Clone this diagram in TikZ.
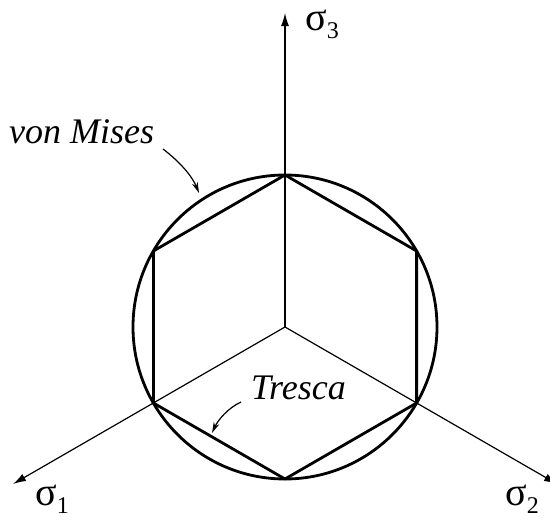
\documentclass[tikz,border=0pt]{standalone}
\usepackage{fontspec}
\setmainfont{Liberation Serif}
\usetikzlibrary{arrows.meta,calc}
\tikzset{
  axis/.style={line width=1.2pt,-{Latex[length=13pt,width=8pt]}},
  thick line/.style={line width=2.8pt,line join=round},
  pointer/.style={line width=1.2pt,-{Stealth[length=11pt,width=6pt]}},
  lbl/.style={font=\fontsize{36}{38}\selectfont\itshape,inner sep=0pt,anchor=base west},
  sig/.style={font=\fontsize{40}{42}\selectfont,inner sep=0pt,anchor=base west}
}
\newcommand{\subnum}[1]{\raisebox{-0.2em}{\fontsize{24}{26}\selectfont #1}}
\begin{document}
\begin{tikzpicture}[x=1pt,y=-1pt]
\useasboundingbox (0,0) rectangle (550,520);
\clip (0,0) rectangle (550,520);
\coordinate (O) at (285,327);
\coordinate (t3) at (285,13);
\coordinate (t1) at ($(O)+(-272,157)$);
\coordinate (t2) at ($(O)+(272,157)$);
\draw[axis] (O) -- (t3);
\draw[axis] (O) -- (t1);
\draw[axis] (O) -- (t2);
\draw[thick line] (O) circle[radius=152];
\coordinate (hT) at (285,175);
\coordinate (hUR) at (416.6,251);
\coordinate (hLR) at (416.6,403);
\coordinate (hB) at (285,479);
\coordinate (hLL) at (153.4,403);
\coordinate (hUL) at (153.4,251);
\draw[thick line] (hT) -- (hUR) -- (hLR) -- (hB) -- (hLL) -- (hUL) -- cycle;
\node[sig] (s3) at (305,30) {σ\subnum{3}};
\node[sig] (s1) at (35,505) {σ\subnum{1}};
\node[sig] (s2) at (505,505) {σ\subnum{2}};
\node[lbl] (vm) at (9,143) {von Mises};
\node[lbl] (tr) at (251,399) {Tresca};
\coordinate (vmA) at (163,149);
\coordinate (vmB) at (199,193);
\coordinate (trA) at (241,402);
\coordinate (trB) at (212,433);
\draw[pointer] (vmA) .. controls (180,162) and (192,176) .. (vmB);
\draw[pointer] (trA) .. controls (228,408) and (218,420) .. (trB);
\end{tikzpicture}
\end{document}
